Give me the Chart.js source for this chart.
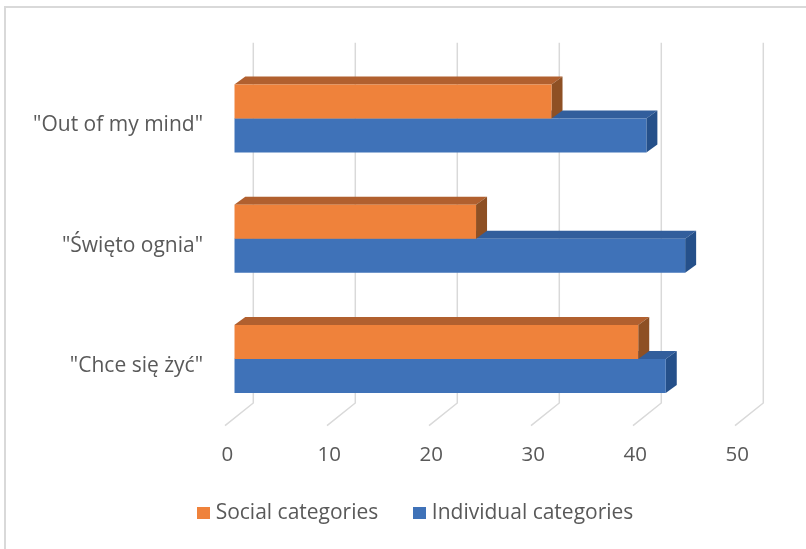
<!DOCTYPE html>
<html>
<head>
<meta charset="utf-8">
<script src="https://cdn.jsdelivr.net/npm/chart.js@4.4.1/dist/chart.umd.min.js"></script>
<style>
  html, body { margin: 0; padding: 0; background: #ffffff; }
  #wrap { width: 806px; height: 549px; position: relative; }
</style>
</head>
<body>
<div id="wrap"><canvas id="c" width="806" height="549"></canvas></div>
<script>
// ---- data ----
const categories = ['"Out of my mind"', '"Święto ognia"', '"Chce się żyć"'];
const socialValues = [31.1, 23.7, 39.6];
const individualValues = [40.4, 44.2, 42.3];
const xTickValues = [0, 10, 20, 30, 40, 50];
const seriesNames = ['Social categories', 'Individual categories'];

// ---- styles ----
const FONT = '"Open Sans", "Noto Sans", sans-serif';
const TEXT = '#595959';
const GRID = '#d9d9d9';
const faces = [
  { front: '#ef823b', top: '#b1602f', side: '#8e5024' },
  { front: '#3f72b8', top: '#325e9c', side: '#25508a' }
];
const DEPTH = { dx: 11, dy: -8 };
const LEGEND_SHIFT = 35.6;

function swatch(color) {
  const c = document.createElement('canvas');
  c.width = 13; c.height = 12;
  const g = c.getContext('2d');
  g.fillStyle = color;
  g.fillRect(0, 0, 13, 12);
  return c;
}
const swatches = faces.map(f => swatch(f.front));

const frame3d = {
  id: 'frame3d',
  afterLayout(chart) {
    if (chart.legend) {
      chart.legend.left += LEGEND_SHIFT;
      chart.legend.right += LEGEND_SHIFT;
    }
  },
  beforeDatasetsDraw(chart) {
    const { ctx, chartArea, scales } = chart;
    const xs = scales.x;
    ctx.save();
    ctx.strokeStyle = GRID;
    ctx.lineWidth = 1.5;
    xTickValues.forEach(v => {
      const px = xs.getPixelForValue(v);
      const bx = px + 19;
      const topY = chartArea.top - 15.6;
      const botY = chartArea.bottom - 16.2;
      ctx.beginPath();
      ctx.moveTo(bx, topY);
      ctx.lineTo(bx, botY);
      ctx.lineTo(px - 9.3, chartArea.bottom + 6.5);
      ctx.stroke();
    });
    ctx.restore();
  },
  beforeDatasetDraw(chart, args) {
    const { ctx } = chart;
    const meta = chart.getDatasetMeta(args.index);
    const f = faces[args.index];
    ctx.save();
    meta.data.forEach(bar => {
      const p = bar.getProps(['x', 'y', 'base', 'height'], true);
      const top = p.y - p.height / 2;
      const bottom = p.y + p.height / 2;
      const x0 = p.base, x1 = p.x;
      ctx.fillStyle = f.top;
      ctx.beginPath();
      ctx.moveTo(x0, top);
      ctx.lineTo(x1, top);
      ctx.lineTo(x1 + DEPTH.dx, top + DEPTH.dy);
      ctx.lineTo(x0 + DEPTH.dx, top + DEPTH.dy);
      ctx.closePath();
      ctx.fill();
      ctx.fillStyle = f.side;
      ctx.beginPath();
      ctx.moveTo(x1, top);
      ctx.lineTo(x1 + DEPTH.dx, top + DEPTH.dy);
      ctx.lineTo(x1 + DEPTH.dx, bottom + DEPTH.dy);
      ctx.lineTo(x1, bottom);
      ctx.closePath();
      ctx.fill();
    });
    ctx.restore();
  },
  afterDraw(chart) {
    const { ctx } = chart;
    ctx.save();
    ctx.strokeStyle = GRID;
    ctx.lineWidth = 2;
    ctx.beginPath();
    ctx.moveTo(5, 549);
    ctx.lineTo(5, 7);
    ctx.lineTo(806, 7);
    ctx.stroke();
    ctx.restore();
  }
};

new Chart(document.getElementById('c'), {
  type: 'bar',
  data: {
    labels: categories,
    datasets: [
      { label: seriesNames[0], data: socialValues, backgroundColor: faces[0].front, borderWidth: 0 },
      { label: seriesNames[1], data: individualValues, backgroundColor: faces[1].front, borderWidth: 0 }
    ]
  },
  options: {
    indexAxis: 'y',
    responsive: false,
    animation: false,
    devicePixelRatio: 1,
    categoryPercentage: 0.565,
    barPercentage: 1.0,
    layout: { padding: { left: 20, right: 61.7, top: 58.3, bottom: 15.5 } },
    plugins: {
      legend: {
        position: 'bottom',
        labels: {
          usePointStyle: true,
          pointStyleWidth: 3,
          boxHeight: 12,
          padding: 40,
          color: TEXT, font: { family: FONT, size: 21 },
          generateLabels(chart) {
            const items = Chart.defaults.plugins.legend.labels.generateLabels(chart);
            items.forEach((it, i) => { it.pointStyle = swatches[i]; });
            return items;
          }
        }
      },
      tooltip: { enabled: false },
      title: { display: false }
    },
    scales: {
      x: {
        min: 0, max: 50,
        afterBuildTicks(s) { s.ticks = xTickValues.map(v => ({ value: v })); },
        afterFit(s) { s.height = 43.3; },
        grid: { display: false, drawTicks: false },
        border: { display: false },
        ticks: { color: TEXT, font: { family: FONT, size: 20.5 }, padding: 23.5, labelOffset: -7 }
      },
      y: {
        afterFit(s) { s.width = 234.3 - 20; },
        grid: { display: false, drawTicks: false },
        border: { display: false },
        ticks: { color: TEXT, font: { family: FONT, size: 21 }, padding: 31.3, labelOffset: 7 }
      }
    }
  },
  plugins: [frame3d]
});
</script>
</body>
</html>
